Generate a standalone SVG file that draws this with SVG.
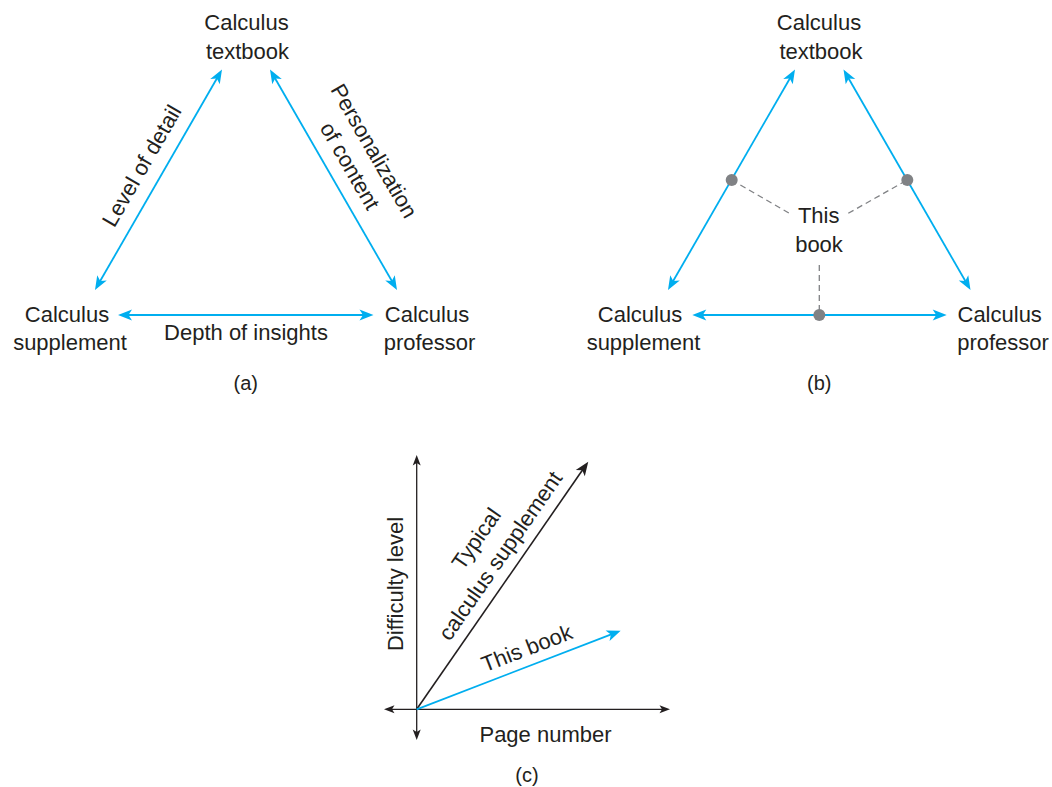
<svg xmlns="http://www.w3.org/2000/svg" width="1052" height="787" viewBox="0 0 1052 787">
<style>
text{font-family:"Liberation Sans",Arial,sans-serif;font-size:22px;fill:#231f20;text-anchor:middle}
.cap{font-size:20px}
.blue{stroke:#00aeef;stroke-width:1.8;fill:none;marker-start:url(#ab);marker-end:url(#ab)}
.dash{stroke:#808285;stroke-width:1.3;stroke-dasharray:6 4;fill:none}
.dot{fill:#808285}
.axis{stroke:#231f20;stroke-width:1.3;fill:none;marker-start:url(#ax);marker-end:url(#ax)}
</style>
<defs>
<marker id="ab" markerUnits="userSpaceOnUse" orient="auto-start-reverse" refX="0" refY="0" markerWidth="30" markerHeight="30" overflow="visible"><path d="M8,0 L-6,-5.5 L-2.5,0 L-6,5.5 Z" fill="#00aeef"/></marker>
<marker id="ak" markerUnits="userSpaceOnUse" orient="auto-start-reverse" refX="0" refY="0" markerWidth="30" markerHeight="30" overflow="visible"><path d="M8,0 L-6,-5.5 L-2.5,0 L-6,5.5 Z" fill="#231f20"/></marker>
<marker id="ax" markerUnits="userSpaceOnUse" orient="auto-start-reverse" refX="0" refY="0" markerWidth="20" markerHeight="20" overflow="visible"><path d="M6,0 L-4.5,-4 L-2,0 L-4.5,4 Z" fill="#231f20"/></marker>
</defs>

<g id="connectors">
  <line class="blue" x1="99" y1="283.07" x2="218" y2="76.43"/>
  <line class="blue" x1="393" y1="283.07" x2="274" y2="76.43"/>
  <line class="blue" x1="126" y1="315" x2="365.5" y2="315"/>
  <line class="blue" x1="672" y1="283.07" x2="791" y2="76.43"/>
  <line class="blue" x1="966.5" y1="283.07" x2="847.5" y2="76.43"/>
  <line class="blue" x1="700.3" y1="315" x2="938.7" y2="315"/>
  <line class="dash" x1="731.7" y1="180" x2="789.3" y2="213.3"/>
  <line class="dash" x1="848.3" y1="213.3" x2="907.3" y2="180"/>
  <line class="dash" x1="819.3" y1="265" x2="819.3" y2="315"/>
  <line class="axis" x1="416.7" y1="461" x2="416.7" y2="734"/>
  <line class="axis" x1="390" y1="709.3" x2="664" y2="709.3"/>
  <line x1="416.7" y1="709.3" x2="583.7" y2="468.3" stroke="#231f20" stroke-width="1.6" marker-end="url(#ak)"/>
  <line x1="416.7" y1="709.3" x2="613.2" y2="633.6" stroke="#00aeef" stroke-width="1.8" marker-end="url(#ab)"/>
</g>

<g id="a-textbook"><text x="246.5" y="30">Calculus</text><text x="247.5" y="58.5">textbook</text></g>
<g id="a-supplement"><text x="67" y="322">Calculus</text><text x="70" y="350">supplement</text></g>
<g id="a-professor"><text x="427" y="322">Calculus</text><text x="429.5" y="350">professor</text></g>
<g id="a-labels">
  <text transform="translate(148.3,169.6) rotate(-60)">Level of detail</text>
  <text transform="translate(367.6,154.6) rotate(60)">Personalization</text>
  <text transform="translate(343.4,169.6) rotate(60)">of content</text>
  <text x="246" y="340">Depth of insights</text>
  <text class="cap" x="245.7" y="390">(a)</text>
</g>

<g id="b-textbook"><text x="819" y="30">Calculus</text><text x="821" y="58.5">textbook</text></g>
<g id="b-supplement"><text x="640" y="322">Calculus</text><text x="643.5" y="350">supplement</text></g>
<g id="b-professor"><text x="999.7" y="322">Calculus</text><text x="1003" y="350">professor</text></g>
<g id="b-thisbook">
  <circle class="dot" cx="731.7" cy="180" r="6"/>
  <circle class="dot" cx="907.3" cy="180" r="6"/>
  <circle class="dot" cx="819.3" cy="315" r="6"/>
  <text x="818.7" y="222.7">This</text><text x="819" y="252.3">book</text>
</g>
<g id="b-caption"><text class="cap" x="819.3" y="390">(b)</text></g>

<g id="c-chart">
  <text transform="translate(403,584) rotate(-90)">Difficulty level</text>
  <text x="545.5" y="741.7">Page number</text>
  <text transform="translate(529.5,655.2) rotate(-21.1)">This book</text>
  <text transform="translate(482.5,543) rotate(-55.3)">Typical</text>
  <text transform="translate(506.5,560) rotate(-55.3)">calculus supplement</text>
  <text class="cap" x="527" y="782">(c)</text>
</g>
</svg>
